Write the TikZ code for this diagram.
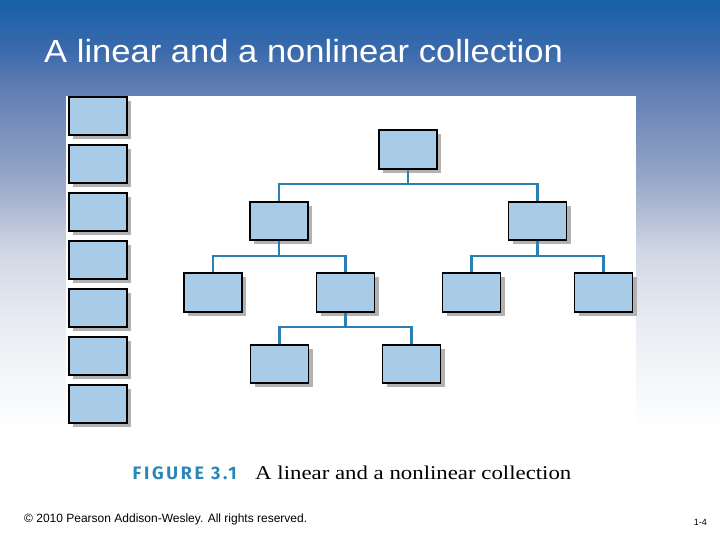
\documentclass[tikz,border=0pt]{standalone}
\usepackage{fontspec}
\setmainfont{Liberation Serif}
\newfontfamily\arialfont{Liberation Sans}
\newfontfamily\figfont[LetterSpace=15]{Fira Sans}
\usetikzlibrary{shadows}
\definecolor{gA}{HTML}{1860A8}
\definecolor{gB}{HTML}{3A6AAC}
\definecolor{gC}{HTML}{5A7AB0}
\definecolor{gD}{HTML}{98A8C8}
\definecolor{gE}{HTML}{D0D6E4}
\definecolor{gF}{HTML}{E8ECF2}
\definecolor{boxfill}{HTML}{A8CBE8}
\definecolor{shadowgray}{HTML}{B2B2B2}
\definecolor{linkblue}{HTML}{2A80B4}
\definecolor{capblue}{HTML}{2A86B8}
\tikzset{
  cell/.style={draw=black, line width=1.4pt, fill=boxfill, minimum width=58pt, minimum height=38pt, inner sep=0pt,
    drop shadow={shadow xshift=4pt, shadow yshift=-4pt, opacity=1, fill=shadowgray}},
  link/.style={draw=linkblue, line width=2.2pt},
}
\begin{document}
\begin{tikzpicture}[x=1pt,y=-1pt]
\useasboundingbox (0,0) rectangle (720,540);
% background gradient
\fill[white] (0,0) rectangle (720,540);
\shade[top color=gA, bottom color=gB] (0,0) rectangle (720,50.5);
\shade[top color=gB, bottom color=gC] (0,50) rectangle (720,80.5);
\shade[top color=gC, bottom color=gD] (0,80) rectangle (720,180.5);
\shade[top color=gD, bottom color=gE] (0,180) rectangle (720,250.5);
\shade[top color=gE, bottom color=gF] (0,250) rectangle (720,320.5);
\shade[top color=gF, bottom color=white] (0,320) rectangle (720,430);
% white panel
\fill[white] (66,96) rectangle (636,540);
% title
\node[anchor=base west, inner sep=0pt, text=white, font=\arialfont\fontsize{32}{36}\selectfont, xscale=1.08] (title) at (44,62.5) {A linear and a nonlinear collection};
% linear collection
\foreach \i/\yy in {1/116,2/164,3/212,4/260,5/308,6/356,7/404}{
  \node[cell] (lin\i) at (98,\yy) {};
}
% tree
\node[cell, minimum height=39pt] (root) at (408,149.5) {};
\node[cell] (a1) at (279,221) {};
\node[cell] (a2) at (537.5,221) {};
\node[cell, minimum height=39pt] (b1) at (213,292.5) {};
\node[cell, minimum height=39pt] (b2) at (345.5,292.5) {};
\node[cell, minimum height=39pt] (b3) at (471.5,292.5) {};
\node[cell, minimum height=39pt] (b4) at (603.5,292.5) {};
\node[cell] (c1) at (279.5,364) {};
\node[cell] (c2) at (411.5,364) {};
\draw[link] ([yshift=-0.7pt]root.south) -- ++(0,13.7) -| ([yshift=0.7pt]a1.north);
\draw[link] ([yshift=-0.7pt]root.south) -- ++(0,13.7) -| ([yshift=0.7pt]a2.north);
\draw[link] ([yshift=-0.7pt]a1.south) -- ++(0,14.7) -| ([yshift=0.7pt]b1.north);
\draw[link] ([yshift=-0.7pt]a1.south) -- ++(0,14.7) -| ([yshift=0.7pt]b2.north);
\draw[link] ([yshift=-0.7pt]a2.south) -- ++(0,14.7) -| ([yshift=0.7pt]b3.north);
\draw[link] ([yshift=-0.7pt]a2.south) -- ++(0,14.7) -| ([yshift=0.7pt]b4.north);
\draw[link] ([yshift=-0.7pt]b2.south) -- ++(0,13.7) -| ([yshift=0.7pt]c1.north);
\draw[link] ([yshift=-0.7pt]b2.south) -- ++(0,13.7) -| ([yshift=0.7pt]c2.north);
% caption
\node[anchor=base west, inner sep=0pt, text=capblue, font=\figfont\bfseries\fontsize{18}{20}\selectfont] (fig) at (132.5,479.3) {FIGURE 3.1};
\node[anchor=base west, inner sep=0pt, text=black, font=\fontsize{19.5}{22}\selectfont, xscale=1.17] (cap) at (255,479.3) {A linear and a nonlinear collection};
% footer
\node[anchor=base west, inner sep=0pt, text=black, font=\arialfont\fontsize{12}{14}\selectfont] (copy) at (24,522) {© 2010 Pearson Addison-Wesley. All rights reserved.};
\node[anchor=base east, inner sep=0pt, text=black, font=\arialfont\fontsize{9}{11}\selectfont] (page) at (707,525) {1-4};
\end{tikzpicture}
\end{document}
